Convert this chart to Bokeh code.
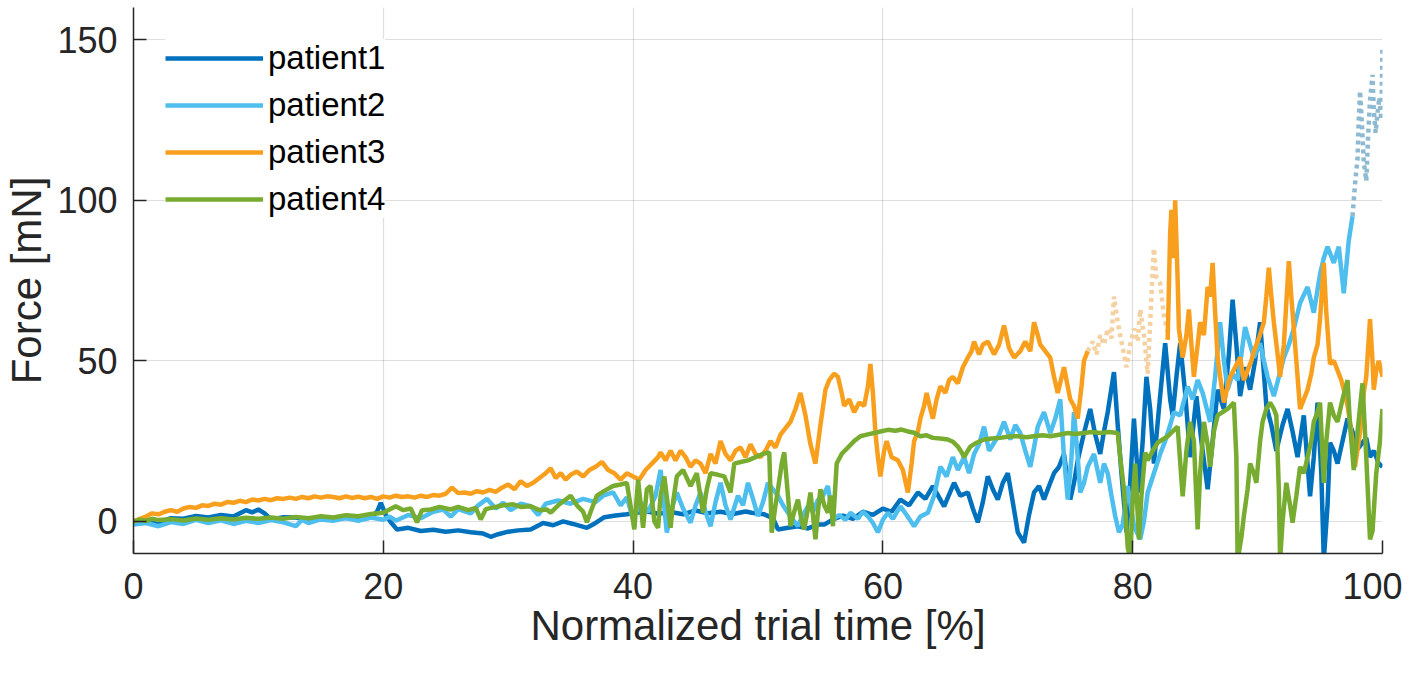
from bokeh.plotting import figure
from bokeh.models import Range1d, FixedTicker
from bokeh.embed import file_html
from bokeh.resources import INLINE

# ---------------- data ----------------
x_ticks = [0, 20, 40, 60, 80, 100]
y_ticks = [0, 50, 100, 150]
series_names = ["patient1", "patient2", "patient3", "patient4"]

p1_x = [0, 1, 2, 3, 4, 5, 6, 7, 8, 9, 9.5, 10, 10.5, 11, 12, 13, 14, 15, 16, 17, 18, 19, 19.5, 19.8, 20.2, 20.6,
        21.1, 22, 23, 24, 25, 26, 27, 28, 28.6, 29.2, 30, 30.8, 31.8, 32.8, 33.6, 34.4, 35.2, 36.3, 37, 37.7, 38.6,
        39.5, 40.2, 41, 42, 43, 44, 45, 46, 47, 48, 49, 49.5, 50.5, 51.2, 51.6, 52.4, 53.2, 54, 54.8, 55.3, 56,
        56.8, 57.6, 58.4, 59.2, 60, 60.7, 61.4, 62.1, 62.8, 63.4, 64, 64.5, 64.9, 65.7, 66.2, 66.8, 67.2, 67.6,
        68, 68.4, 68.8, 69.2, 69.6, 70, 70.4, 70.8, 71.3, 71.7, 72.1, 72.5, 72.9, 73.3, 73.7, 74.1, 74.5, 75,
        75.3, 75.6, 76.1, 76.6, 77, 77.4, 77.7, 78, 78.5, 78.8, 79.1, 79.5, 79.8, 80.1, 80.5, 80.8, 81.1, 81.4,
        81.7, 82.1, 82.6, 83, 83.2, 83.5, 83.8, 84.2, 84.6, 85.1, 85.5, 86, 86.4, 86.8, 87.3, 87.7, 88, 88.3,
        88.6, 89, 89.4, 89.8, 90.2, 90.7, 91.1, 91.5, 92, 92.4, 92.8, 93.2, 93.7, 94.2, 94.5, 94.8, 95.1, 95.3,
        95.6, 95.8, 96.1, 96.4, 96.8, 97.2, 97.6, 97.9, 98.3, 98.7, 99, 99.3, 99.7, 100]
p1_y = [0, 0.5, -0.3, 1.0, 0.8, 1.7, 1.2, 2.0, 1.5, 3.5, 2.8, 3.7, 2.5, 0.6, 1.3, 1.2, 0.5, 1.0, 0.6, 1.1, 0.6, 1.2,
        3.0, 5.8, 2.0, -0.3, -2.5, -2.0, -3.0, -2.6, -3.2, -2.8, -3.4, -3.8, -4.8, -4.0, -3.2, -2.8, -2.5, -0.5,
        -1.2, 0.0, -0.8, -2.0, -0.5, 1.3, 1.8, 2.2, 2.6, 3.2, 2.4, 2.9, 2.2, 3.4, 2.5, 3.0, 2.3, 3.1, 2.7, 2.2,
        1.0, -2.5, -2.0, -1.5, -2.2, -1.0, -1.0, 0.6, 1.8, 0.8, 3.0, 2.0, 4.0, 3.0, 6.8, 5.0, 9.0, 7.0, 11.0,
        7.5, 4.7, 12.0, 8.0, 9.0, 4.0, -0.3, 6.0, 14.0, 10.0, 6.8, 12.0, 15.0, 6.0, -3.4, -6.6, 2.0, 9.0, 11.0,
        6.8, 11.0, 15.0, 17.0, 21.0, 6.8, 12.0, 19.0, 27.5, 35.0, 27.0, 21.0, 28.0, 34.0, 46.5, 30.0, 15.0,
        -3.4, 12.0, 32.0, 9.0, 25.0, 45.0, 35.0, 18.0, 35.0, 55.5, 38.0, 33.0, 45.0, 55.5, 40.0, 20.0, 39.0,
        25.0, 10.0, 25.0, 41.0, 35.0, 52.0, 69.0, 55.0, 39.0, 48.0, 41.0, 50.0, 62.0, 36.0, 30.0, 22.0, 30.0,
        35.0, 28.0, 20.0, 33.0, 7.8, 20.0, 37.0, 15.0, -12.0, 5.0, 24.5, 22.0, 18.0, 25.0, 32.0, 28.0, 22.0,
        24.0, 26.0, 20.0, 22.0, 18.0, 17.0]

p2_x = [0, 1, 2, 3, 4, 5, 6, 7, 8, 9, 10, 11, 12, 13, 13.5, 14, 15, 16, 17, 18, 19, 20, 20.5, 21, 22, 23, 24, 24.8,
        25.4, 26, 27, 27.6, 28.3, 29, 29.6, 30.2, 31, 31.8, 32.4, 33, 34, 35, 36, 37, 37.6, 38.4, 39, 39.5, 40,
        40.6, 41.2, 41.8, 42.2, 42.7, 43.1, 43.5, 44, 44.6, 45, 45.4, 45.8, 46.2, 46.6, 47, 47.4, 47.8, 48.4,
        48.8, 49.2, 49.6, 50, 50.4, 50.8, 51.2, 51.6, 52, 52.4, 52.8, 53.2, 53.6, 54, 54.4, 54.8, 55.2, 55.6,
        56, 56.5, 57, 57.4, 58, 58.4, 58.8, 59.2, 59.6, 60, 60.4, 60.8, 61.4, 61.9, 62.5, 63, 63.6, 64.1, 64.6,
        65.1, 65.6, 66, 66.5, 66.9, 67.3, 67.7, 68.1, 68.5, 68.9, 69.3, 69.7, 70.2, 70.6, 71, 71.4, 71.8, 72.1,
        72.4, 72.9, 73.4, 73.8, 74.2, 74.5, 74.8, 75.1, 75.3, 75.6, 75.8, 76.1, 76.4, 76.9, 77.4, 77.7, 78,
        78.3, 78.6, 78.9, 79.2, 79.6, 80.1, 80.6, 80.9, 81.2, 81.7, 82.2, 82.6, 83, 83.3, 83.8, 84.4, 84.8,
        85.2, 85.6, 86.2, 86.6, 87, 87.3, 87.6, 88, 88.4, 88.7, 89, 89.4, 89.7, 90.2, 90.5, 90.8, 91.3, 91.7,
        92.1, 92.5, 92.9, 93.4, 94, 94.5, 95, 95.3, 95.6, 96.1, 96.5, 96.9, 97.3, 97.6]
p2_y = [-1.0, -0.5, -1.5, -0.2, -0.8, 0.5, -0.5, 0.3, -0.8, 0.2, -0.5, 0.4, -0.3, -1.5, 0.5, -0.5, 0.6, 0.2, 1.0,
        0.2, 1.2, 0.5, 1.5, 0.2, 2.0, 1.0, 3.0, 3.7, 1.5, 3.8, 2.5, 5.0, 7.0, 4.0, 5.8, 3.5, 5.5, 4.7, 2.0, 5.5,
        6.5, 5.5, 7.0, 6.0, 8.0, 9.0, 5.0, 7.5, 0.6, 6.0, 3.0, 8.0, 16.0, -3.5, 4.0, 9.0, 4.0, -0.4, 5.0, 9.0,
        3.0, -1.5, 6.0, 12.0, 5.0, 0.6, 8.0, 5.0, 12.0, 7.0, 1.6, 6.0, 12.0, 10.0, 8.0, 5.0, 2.7, 0.5, -1.5,
        2.0, 4.7, 3.0, 6.7, 8.0, 11.0, 0.6, 2.0, 0.5, 2.7, 0.8, 3.0, 1.6, -0.5, -3.4, 0.5, 2.7, 0.8, 4.7, 2.0,
        -1.5, 1.5, 2.7, 8.0, 17.0, 14.0, 20.0, 16.0, 20.0, 15.0, 21.0, 24.0, 29.5, 22.0, 24.5, 27.0, 31.0,
        25.5, 30.0, 27.5, 22.0, 17.0, 23.0, 29.5, 34.0, 27.5, 32.0, 38.0, 20.0, 6.8, 20.0, 34.0, 20.0, 9.0,
        12.0, 17.0, 21.0, 12.0, 18.0, 15.0, 8.0, 1.6, -3.4, -1.0, 11.0, -1.5, -5.6, 0.0, 9.0, 15.0, 21.0,
        25.0, 30.0, 34.0, 33.0, 42.0, 38.0, 44.0, 40.0, 31.0, 45.0, 62.0, 50.0, 41.0, 46.0, 44.0, 52.0, 60.5,
        55.0, 51.0, 55.5, 50.0, 45.0, 39.0, 45.0, 51.0, 55.0, 60.0, 68.0, 73.0, 65.0, 77.0, 82.0, 85.5, 80.5,
        85.5, 71.0, 87.5, 95.0]

p2_dot_x = [97.6, 97.8, 98.0, 98.1, 98.2, 98.35, 98.5, 98.7, 98.85, 99.0, 99.2, 99.3, 99.45, 99.6, 99.75, 99.9, 100]
p2_dot_y = [95, 105, 113, 125, 134, 124, 112, 106, 120, 131, 139, 128, 121, 127, 132, 125, 148]

p3_x = [0, 0.5, 1, 1.5, 2, 2.5, 3, 3.5, 4, 4.5, 5, 5.5, 6, 6.5, 7, 7.5, 8, 8.5, 9, 9.5, 10, 10.5, 11, 11.5, 12,
        12.5, 13, 13.5, 14, 14.5, 15, 15.5, 16, 16.5, 17, 17.5, 18, 18.5, 19, 19.5, 20, 20.5, 21, 21.5, 22, 22.5,
        23, 23.5, 24, 24.5, 25, 25.5, 26, 26.5, 27, 27.5, 28, 28.5, 29, 29.5, 30, 30.5, 31, 31.5, 32, 32.5, 33,
        33.4, 33.8, 34.2, 34.6, 35, 35.5, 36, 36.5, 37, 37.5, 38, 38.5, 39, 39.5, 40, 40.5, 41, 41.5, 42, 42.2,
        42.6, 43, 43.4, 43.8, 44.2, 44.6, 45, 45.4, 45.8, 46.2, 46.6, 47, 47.4, 47.8, 48.2, 48.6, 49, 49.4,
        49.8, 50.2, 50.6, 51, 51.4, 51.8, 52.2, 52.6, 53, 53.4, 53.8, 54.2, 54.6, 55, 55.4, 55.7, 56.1, 56.4,
        56.7, 56.9, 57.3, 57.7, 58.1, 58.5, 58.8, 59, 59.2, 59.4, 59.6, 59.8, 60.1, 60.3, 60.7, 61.2, 61.6, 62,
        62.3, 62.5, 62.8, 63, 63.3, 63.5, 63.8, 64, 64.3, 64.6, 65, 65.3, 65.6, 66, 66.4, 66.8, 67.1, 67.3,
        67.7, 68, 68.4, 68.9, 69.3, 69.7, 70.1, 70.5, 71, 71.4, 71.8, 72.1, 72.4, 72.6, 73, 73.4, 73.7, 74,
        74.5, 75, 75.3, 75.6, 75.9, 76.1, 76.4]
p3_y = [0.0, 0.8, 1.5, 2.5, 2.2, 3.0, 3.5, 3.0, 4.0, 4.5, 4.2, 5.0, 4.8, 5.5, 5.2, 6.0, 5.8, 6.4, 6.0, 6.8, 6.5, 7.0,
        6.6, 7.2, 7.0, 7.4, 7.0, 7.6, 7.2, 7.8, 7.4, 7.8, 7.6, 7.2, 7.8, 7.3, 7.7, 7.2, 7.6, 7.0, 7.8, 7.4, 8.0,
        7.6, 7.8, 7.4, 8.0, 7.6, 8.2, 8.0, 8.6, 10.5, 8.8, 9.0, 8.6, 9.4, 9.0, 9.8, 9.2, 10.5, 11.5, 10.0, 12.5,
        11.0, 12.0, 13.5, 15.0, 16.5, 13.5, 15.0, 13.0, 14.5, 15.5, 14.0, 16.0, 17.0, 18.5, 16.0, 15.0, 13.0,
        15.0, 14.0, 13.0, 16.0, 18.0, 20.0, 21.5, 19.0, 22.0, 19.0, 22.0, 20.0, 17.0, 19.0, 18.0, 15.0, 21.0,
        18.0, 25.0, 21.0, 19.0, 22.0, 23.0, 20.0, 24.0, 21.0, 20.0, 22.0, 25.0, 23.0, 27.0, 29.0, 31.0, 35.0,
        40.0, 33.0, 24.0, 18.0, 30.0, 41.0, 44.0, 46.0, 45.0, 40.0, 36.0, 38.0, 34.0, 37.0, 36.0, 42.0, 49.0,
        40.0, 27.6, 20.0, 14.0, 22.0, 25.0, 20.0, 19.0, 16.0, 9.0, 18.0, 25.0, 28.0, 32.0, 36.0, 40.0, 35.0,
        32.0, 38.0, 42.0, 40.0, 44.0, 45.0, 43.0, 48.0, 51.0, 53.0, 56.0, 52.0, 55.0, 56.0, 52.0, 55.0, 61.0,
        54.0, 51.0, 53.0, 56.0, 53.0, 62.0, 58.0, 55.0, 53.0, 51.0, 45.0, 40.0, 48.0, 38.0, 36.0, 32.0, 42.0,
        50.0, 53.0]

p3_dot_x = [76.4, 76.8, 77.1, 77.4, 77.7, 78, 78.3, 78.5, 78.8, 79.1, 79.5, 79.8, 80.1, 80.4, 80.6, 80.9, 81.2,
            81.5, 81.7, 81.9, 82.2, 82.5, 82.8]
p3_dot_y = [53, 56, 52, 58, 55, 60, 57, 70, 62, 56, 48, 55, 60, 56, 66, 58, 46, 70, 85, 76, 74, 64, 59]

p3b_x = [82.8, 83.0, 83.1, 83.3, 83.4, 83.6, 83.7, 84, 84.3, 84.5, 84.7, 84.9, 85.2, 85.4, 85.7, 86, 86.2, 86.4,
         86.6, 86.8, 87.0, 87.3, 87.6, 87.8, 88.2, 88.6, 88.9, 89.2, 89.5, 89.7, 90.1, 90.5, 90.7, 90.9, 91.1,
         91.3, 91.6, 91.8, 92.1, 92.3, 92.5, 92.7, 92.9, 93.1, 93.4, 93.7, 94, 94.3, 94.5, 94.8, 95, 95.3, 95.5,
         95.8, 96.1, 96.4, 96.7, 96.9, 97.2, 97.4, 97.8, 98.1, 98.3, 98.5, 98.7, 99, 99.2, 99.3, 99.5, 99.7, 100]
p3b_y = [56.5, 90, 97, 82, 100, 75, 60, 51, 58, 66, 55, 45, 55, 62, 58, 73, 70, 80.5, 65, 51, 45, 37, 42, 45, 48,
         51, 44, 47, 50, 53, 57, 62, 70, 79, 70, 62, 52, 45, 55, 68, 81, 70, 60, 50, 35, 38, 41, 46, 51, 55, 63,
         80.5, 65, 49, 50, 47, 44, 41, 36, 31, 17, 25, 31, 40, 45, 63, 50, 41, 47, 50, 45]

p4_x = [0, 0.5, 1, 1.5, 2, 3, 4, 5, 6, 7, 8, 9, 10, 11, 12, 13, 14, 15, 16, 17, 18, 19, 20, 21, 21.6, 22.2, 22.7,
        23.1, 23.8, 24.5, 25.4, 26, 26.8, 27.4, 27.8, 28.2, 29, 29.6, 30.4, 31, 31.8, 32.5, 33.1, 33.4, 34, 35,
        35.5, 36, 36.3, 36.7, 37.1, 37.7, 38.4, 39, 39.5, 40.1, 40.4, 40.8, 41.1, 41.4, 41.7, 42, 42.2, 42.5,
        43, 43.2, 43.5, 44, 44.6, 45.1, 45.6, 45.9, 46.2, 46.8, 47.3, 47.8, 48.1, 48.6, 49.2, 49.8, 50.4, 50.9,
        51.1, 51.4, 51.6, 51.9, 52.1, 52.4, 52.6, 52.9, 53.2, 53.5, 53.7, 54, 54.2, 54.4, 54.6, 54.8, 55, 55.3,
        55.6, 55.8, 56, 56.3, 56.7, 57.2, 57.7, 58.2, 58.7, 59.3, 59.8, 60.4, 61, 61.5, 62, 62.5, 63, 63.5, 64,
        64.6, 65.2, 65.6, 66, 66.3, 66.5, 66.8, 67, 67.5, 68.1, 68.7, 69.4, 70.1, 70.8, 71.5, 72.1, 72.8,
        73.4, 74.1, 74.8, 75.4, 76.1, 76.7, 77.4, 78.1, 78.8, 79, 79.3, 79.6, 79.8, 80, 80.2, 80.5, 80.7, 81,
        81.2, 81.6, 82, 82.4, 82.8, 83.2, 83.6, 84, 84.3, 84.6, 84.9, 85.2, 85.4, 85.7, 86, 86.2, 86.5, 86.8,
        87.2, 87.6, 88.1, 88.3, 88.4, 88.7, 88.9, 89.2, 89.4, 89.7, 89.9, 90.2, 90.4, 90.7, 91, 91.3, 91.5,
        91.7, 91.8, 92, 92.3, 92.6, 92.8, 93.1, 93.4, 93.7, 94, 94.3, 94.5, 94.8, 95, 95.3, 95.5, 95.8, 96.1,
        96.4, 96.8, 97.2, 97.4, 97.7, 98, 98.4, 98.7, 99, 99.2, 99.5, 99.8, 100]
p4_y = [0.0, 0.5, 0.2, 0.8, 0.4, 0.7, 0.3, 0.9, 0.5, 1.0, 0.6, 1.1, 0.8, 1.2, 0.8, 1.4, 1.0, 1.6, 1.2, 1.9, 1.6, 2.3,
        2.7, 4.7, 3.5, 4.0, -0.3, 3.5, 3.7, 4.5, 3.7, 4.5, 3.5, 4.2, 0.6, 3.8, 4.5, 5.0, 5.3, 4.5, 4.7, 3.5, 3.7,
        2.7, 5.0, 8.0, 5.0, 3.0, -0.3, 4.0, 8.0, 9.5, 11.0, 11.5, 12.0, -2.5, 13.0, -2.0, 10.0, 11.0, 0.0, -2.0,
        8.0, 14.0, -2.0, 6.0, 14.0, 16.0, 11.0, 15.0, 2.7, 10.0, 15.0, 14.5, 14.0, 9.0, 18.0, 18.5, 19.0, 20.0,
        21.0, 21.5, -3.5, 5.0, 10.0, 18.0, 21.5, 8.0, -1.5, 3.0, 6.8, 0.0, -2.5, 4.0, 9.0, 2.0, -5.6, 3.0, 10.0,
        5.0, 2.7, 8.0, -1.5, 18.0, 21.0, 23.0, 25.0, 26.5, 27.0, 27.5, 28.0, 28.5, 28.2, 28.6, 28.0, 27.6,
        26.5, 26.8, 26.0, 25.8, 25.5, 24.8, 23.3, 21.5, 20.0, 22.0, 23.3, 24.5, 25.5, 25.8, 26.0, 26.4, 26.5,
        26.2, 26.5, 26.8, 26.5, 27.0, 27.5, 27.2, 27.5, 27.8, 27.5, 27.8, 27.5, 20.0, 10.0, -8.0, -12.0, 6.8,
        18.0, -5.6, 8.0, 21.5, 19.0, 22.0, 24.5, 25.5, 26.5, 28.0, 29.5, 7.8, 22.0, 31.0, 25.0, -2.5, 15.0,
        31.0, 24.0, 17.0, 28.0, 33.0, 34.0, 35.0, 37.0, 20.0, -12.0, -5.0, 1.6, 10.0, 18.0, 15.0, 12.0, 25.0,
        31.0, 35.0, 37.0, 35.0, 33.0, 10.0, -12.0, 0.0, 12.0, 5.0, -0.4, 8.0, 17.0, 15.0, 20.0, 25.0, 31.0,
        34.0, 37.0, 12.0, 25.0, 37.0, 33.0, 31.0, 38.0, 44.0, 30.0, 16.0, 28.0, 43.0, 20.0, -5.6, -3.0, 15.0,
        25.0, 35.0]

# ---------------- styles ----------------
C1, C2, C3, C4 = "#0072BD", "#4DBEEE", "#F8A01E", "#77AC30"
C2_DOT, C3_DOT = "#8DBAD0", "#F5D0A0"
TEXT = "#262626"
FONT = "Liberation Sans"
LW = 4.5

p = figure(width=1402, height=659, x_range=Range1d(0, 100), y_range=Range1d(-10, 160),
           output_backend="svg", toolbar_location=None,
           min_border_left=133, min_border_right=20, min_border_top=7, min_border_bottom=106)
p.outline_line_color = None
p.background_fill_color = "white"
p.border_fill_color = "white"

p.line(p1_x, p1_y, line_color=C1, line_width=LW, legend_label=series_names[0])
p.line(p2_x, p2_y, line_color=C2, line_width=LW, legend_label=series_names[1])
p.line(p2_dot_x, p2_dot_y, line_color=C2_DOT, line_width=LW, line_dash="4 4")
p.line(p3_x, p3_y, line_color=C3, line_width=LW, legend_label=series_names[2])
p.line(p3_dot_x, p3_dot_y, line_color=C3_DOT, line_width=LW, line_dash="4 4")
p.line(p3b_x, p3b_y, line_color=C3, line_width=LW)
p.line(p4_x, p4_y, line_color=C4, line_width=LW, legend_label=series_names[3])

for ax, ticks in ((p.xaxis, x_ticks), (p.yaxis, y_ticks)):
    ax.ticker = FixedTicker(ticks=ticks)
    ax.major_tick_in = 13
    ax.major_tick_out = 0
    ax.minor_tick_line_color = None
    ax.axis_line_color = TEXT
    ax.axis_line_width = 1.5
    ax.major_tick_line_color = TEXT
    ax.major_tick_line_width = 1.5
    ax.major_label_text_font = FONT
    ax.major_label_text_font_size = "36px"
    ax.major_label_text_color = TEXT
    ax.axis_label_text_font = FONT
    ax.axis_label_text_font_size = "42px"
    ax.axis_label_text_font_style = "normal"
    ax.axis_label_text_color = TEXT

p.xaxis.axis_label = "Normalized trial time [%]"
p.yaxis.axis_label = "Force [mN]"
p.xaxis.major_label_standoff = 19
p.xaxis.axis_label_standoff = 0
p.yaxis.major_label_standoff = 16
p.yaxis.axis_label_standoff = 4

p.grid.grid_line_color = TEXT
p.grid.grid_line_alpha = 0.15
p.grid.grid_line_width = 1.2

lg = p.legend[0]
lg.location = "top_left"
lg.margin = 32
lg.padding = 10
lg.spacing = 9
lg.glyph_width = 98
lg.glyph_height = 20
lg.label_standoff = 5
lg.label_text_font = FONT
lg.label_text_font_size = "33px"
lg.label_text_color = "black"
lg.border_line_color = None
lg.background_fill_color = "white"
lg.background_fill_alpha = 1.0

open("out.html", "w").write(file_html(p, INLINE))
